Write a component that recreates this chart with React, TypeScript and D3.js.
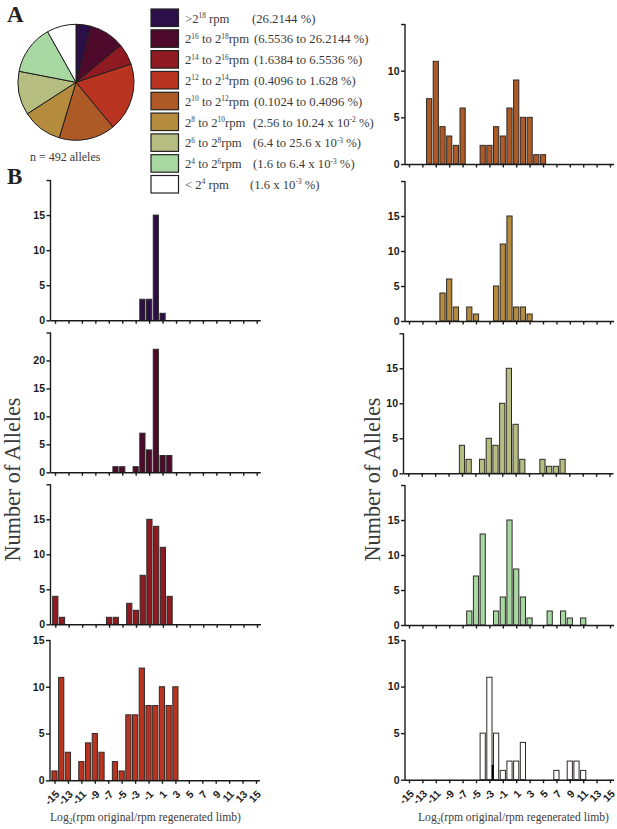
import React, { useRef, useEffect } from 'react'
import * as d3 from 'd3'

// pie: alleles per expression class, clockwise from 12 o'clock
const pieCounts = [20, 49, 29, 94, 77, 55, 60, 68, 40]
const classColors = ['#2c0f48', '#4d0a2b', '#8f1a22', '#b83420', '#ad5a26', '#b58b3d', '#b5bd80', '#a8d8a2', '#ffffff']

const legendLabels = ['>2^18 rpm', '2^16 to 2^18rpm', '2^14 to 2^16rpm', '2^12 to 2^14rpm', '2^10 to 2^12rpm', '2^8 to 2^10rpm', '2^6 to 2^8rpm', '2^4 to 2^6rpm', '< 2^4 rpm']
const legendRanges = ['(26.2144 %)', '(6.5536 to 26.2144 %)', '(1.6384 to 6.5536 %)', '(0.4096 to 1.628 %)', '(0.1024 to 0.4096 %)', '(2.56 to 10.24 x 10^-2 %)', '(6.4 to 25.6 x 10^-3 %)', '(1.6 to 6.4 x 10^-3 %)', '(1.6 x 10^-3 %)']
const legendRangeX = [252, 254, 254, 254, 254, 253, 253, 253, 250]

// histogram bins: [log2 ratio, number of alleles]
const bins0: [number, number][] = [[-2, 3], [-1, 3], [0, 15], [1, 1]]
const bins1: [number, number][] = [[-6, 1], [-5, 1], [-3, 1], [-2, 7], [-1, 4], [0, 22], [1, 3], [2, 3]]
const bins2: [number, number][] = [[-15, 4], [-14, 1], [-7, 1], [-6, 1], [-4, 3], [-3, 2], [-2, 7], [-1, 15], [0, 14], [1, 11], [2, 4]]
const bins3: [number, number][] = [[-15, 1], [-14, 11], [-13, 3], [-11, 2], [-10, 4], [-9, 5], [-8, 3], [-6, 2], [-5, 1], [-4, 7], [-3, 7], [-2, 12], [-1, 8], [0, 8], [1, 10], [2, 8], [3, 10]]
const bins4: [number, number][] = [[-12, 7], [-11, 11], [-10, 4], [-9, 3], [-8, 2], [-7, 6], [-4, 2], [-3, 2], [-2, 4], [-1, 3], [0, 6], [1, 9], [2, 5], [3, 5], [4, 1], [5, 1]]
const bins5: [number, number][] = [[-10, 4], [-9, 6], [-8, 2], [-6, 2], [-5, 1], [-2, 5], [-1, 11], [0, 15], [1, 2], [2, 2], [3, 1]]
const bins6: [number, number][] = [[-7, 4], [-6, 2], [-4, 2], [-3, 5], [-2, 4], [-1, 10], [0, 15], [1, 7], [2, 2], [5, 2], [6, 1], [7, 1], [8, 2]]
const bins7: [number, number][] = [[-6, 2], [-5, 7], [-4, 13], [-2, 2], [-1, 4], [0, 15], [1, 8], [2, 4], [3, 1], [6, 2], [8, 2], [9, 1], [11, 1]]
const bins8: [number, number][] = [[-4, 5], [-3, 11], [-2, 5], [-1, 1], [0, 2], [1, 2], [2, 4], [7, 1], [9, 2], [10, 2], [11, 1]]

// the small black stroke between two white bars: [log2 ratio, height]
const inkMark: [number, number] = [-2.5, 1.6]

const xTicks = d3.range(-15, 16, 2)

const serif = '"Liberation Serif", serif'
const sans = '"Liberation Sans", sans-serif'
const inkText = '#3a3a3a'

// turns 2^16 or 10^-2 into raised tspans
function RichText({ text, size }: { text: string; size: number }) {
  const parts = text.split(/\^(-?\d+)/)
  let raised = false
  return (
    <>
      {parts.map((p, i) => {
        if (p === '') return null
        const isSup = i % 2 === 1
        const dy = isSup ? -size * 0.36 : raised ? size * 0.36 : 0
        raised = isSup
        return (
          <tspan key={i} dy={dy} fontSize={isSup ? size * 0.58 : size}>{p}</tspan>
        )
      })}
    </>
  )
}

interface PanelProps {
  bins: [number, number][]
  color: string
  top: number
  base: number
  yMax: number
  yTicks: number[]
  axisX: number
  x0: number
  x1: number
  showLabels?: boolean
  mark?: [number, number]
}

function Panel({ bins, color, top, base, yMax, yTicks, axisX, x0, x1, showLabels, mark }: PanelProps) {
  const xRef = useRef<SVGGElement>(null)
  const yRef = useRef<SVGGElement>(null)
  const x = d3.scaleLinear().domain([-15, 15]).range([x0, x1])
  const y = d3.scaleLinear().domain([0, yMax]).range([base, top])
  const barW = 5.2

  useEffect(() => {
    const xAxis = d3.axisBottom(x)
      .tickValues(xTicks)
      .tickSizeOuter(0)
      .tickSize(3.5)
      .tickFormat(d => (showLabels ? String(d) : ''))
    const gx = d3.select(xRef.current!)
    gx.selectAll('*').remove()
    gx.call(xAxis as any)
    gx.select('.domain').attr('d', `M${axisX},0.5H${x1 + 4}`).attr('stroke', '#1a1a1a').attr('stroke-width', 1.4)
    gx.selectAll('.tick line').attr('stroke', '#1a1a1a').attr('stroke-width', 1.4)
    gx.selectAll('.tick text')
      .attr('x', 0).attr('y', 0).attr('dy', '0.35em')
      .attr('transform', 'translate(2.5,12) rotate(-45)')
      .attr('text-anchor', 'end')
      .attr('font-family', sans).attr('font-weight', 'bold').attr('font-size', 10.5)
      .attr('fill', '#1a1a1a')

    const yAxis = d3.axisLeft(y)
      .tickValues(Array.from(new Set([...yTicks, yMax])))
      .tickSize(4)
      .tickPadding(1.5)
      .tickFormat(d => (yTicks.includes(+d) ? String(d) : ''))
    const gy = d3.select(yRef.current!)
    gy.selectAll('*').remove()
    gy.call(yAxis as any)
    gy.select('.domain').attr('stroke', '#1a1a1a').attr('stroke-width', 1.4).attr('d', `M0,${top}V${base}`)
    gy.selectAll('.tick line').attr('stroke', '#1a1a1a').attr('stroke-width', 1.4)
    gy.selectAll('.tick text')
      .attr('font-family', sans).attr('font-weight', 'bold').attr('font-size', 10.5)
      .attr('fill', '#1a1a1a')
  }, [])

  return (
    <g>
      {bins.map(([b, v]) => (
        <rect
          key={b}
          x={x(b) - barW / 2}
          y={y(v)}
          width={barW}
          height={base - y(v)}
          fill={color}
          stroke="#2e2a28"
          strokeWidth={1}
        />
      ))}
      {mark && (
        <line x1={x(mark[0])} x2={x(mark[0])} y1={y(mark[1])} y2={base} stroke="#000" strokeWidth={2} />
      )}
      <g ref={xRef} transform={`translate(0,${base})`} />
      <g ref={yRef} transform={`translate(${axisX},0)`} />
    </g>
  )
}

function XTitle({ x }: { x: number }) {
  return (
    <text x={x} y={821} fontFamily={serif} fontSize={11.6} fill={inkText}>
      Log<tspan dy={3} fontSize={7.5}>2</tspan><tspan dy={-3}>(rpm original/rpm regenerated limb)</tspan>
    </text>
  )
}

function YTitle({ x }: { x: number }) {
  return (
    <text transform={`translate(${x},479.5) rotate(-90)`} textAnchor="middle" fontFamily={serif} fontSize={22.2} fill={inkText}>
      Number of Alleles
    </text>
  )
}

export default function App() {
  const arcs = d3.pie<number>().sort(null)(pieCounts)
  const arc = d3.arc<d3.PieArcDatum<number>>().innerRadius(0).outerRadius(58)
  const legendY = d3.scaleLinear().domain([0, 8]).range([9, 175.5])

  return (
    <svg width={617} height={829} style={{ position: 'absolute', left: 0, top: 0, background: '#fff' }}>
      <text x={7} y={21.5} fontFamily={serif} fontWeight="bold" fontSize={23} fill="#222">A</text>
      <text x={7} y={184} fontFamily={serif} fontWeight="bold" fontSize={23} fill="#222">B</text>

      <g transform="translate(76,82.3)">
        {arcs.map((a, i) => (
          <path key={i} d={arc(a)!} fill={classColors[i]} stroke="#1c1c1c" strokeWidth={1} />
        ))}
      </g>
      <text x={30} y={161} fontFamily={serif} fontSize={12} fill={inkText}>n = 492 alleles</text>

      {legendLabels.map((label, i) => (
        <g key={label}>
          <rect x={151} y={legendY(i)} width={27.5} height={17.5} fill={classColors[i]} stroke="#222" strokeWidth={1.2} />
          <text x={185} y={legendY(i) + 13.5} fontFamily={serif} fontSize={12.7} fill={inkText}>
            <RichText text={label} size={12.7} />
          </text>
          <text x={legendRangeX[i]} y={legendY(i) + 13.5} fontFamily={serif} fontSize={12.7} fill={inkText}>
            <RichText text={legendRanges[i]} size={12.7} />
          </text>
        </g>
      ))}

      <Panel bins={bins0} color={classColors[0]} top={180} base={320.3} yMax={20} yTicks={[0, 5, 10, 15]} axisX={50.5} x0={55} x1={256.7} />
      <Panel bins={bins1} color={classColors[1]} top={332.5} base={472.3} yMax={25} yTicks={[0, 5, 10, 15, 20]} axisX={50.5} x0={55} x1={256.7} />
      <Panel bins={bins2} color={classColors[2]} top={484.3} base={624.3} yMax={20} yTicks={[0, 5, 10, 15]} axisX={50.5} x0={55.3} x1={257} />
      <Panel bins={bins3} color={classColors[3]} top={640} base={780.3} yMax={15} yTicks={[0, 5, 10, 15]} axisX={50} x0={54.5} x1={256} showLabels />

      <Panel bins={bins4} color={classColors[4]} top={24} base={164} yMax={15} yTicks={[0, 5, 10]} axisX={405} x0={409} x1={610} />
      <Panel bins={bins5} color={classColors[5]} top={181} base={321} yMax={20} yTicks={[0, 5, 10, 15]} axisX={405} x0={409} x1={610} />
      <Panel bins={bins6} color={classColors[6]} top={333.3} base={473.3} yMax={20} yTicks={[0, 5, 10, 15]} axisX={403.5} x0={408.3} x1={609.5} />
      <Panel bins={bins7} color={classColors[7]} top={485} base={625} yMax={20} yTicks={[0, 5, 10, 15]} axisX={405} x0={409} x1={610} />
      <Panel bins={bins8} color={classColors[8]} top={640} base={779.7} yMax={15} yTicks={[0, 5, 10, 15]} axisX={405} x0={409} x1={610} showLabels mark={inkMark} />

      <YTitle x={20} />
      <YTitle x={380} />
      <XTitle x={50} />
      <XTitle x={418} />
    </svg>
  )
}
